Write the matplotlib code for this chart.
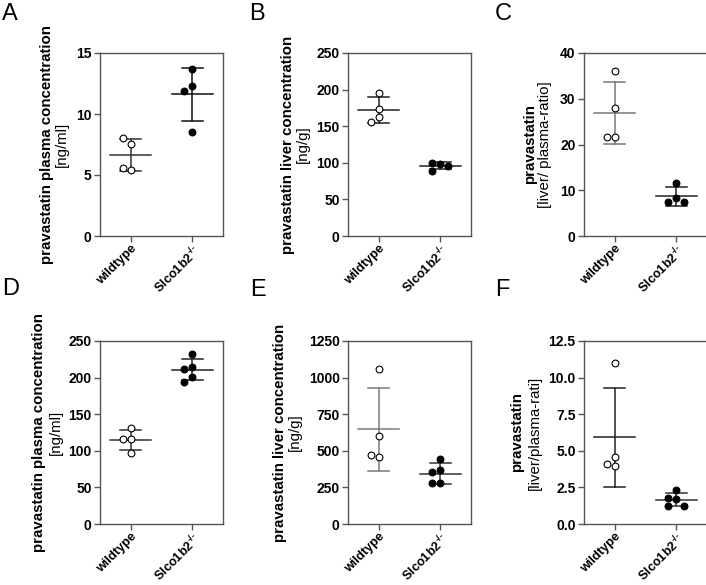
import numpy as np
import matplotlib
matplotlib.use('Agg')
from matplotlib import pyplot as plt

plt.rcParams['font.family'] = ['Liberation Sans', 'DejaVu Sans']
plt.rcParams['mathtext.fontset'] = 'custom'
plt.rcParams['mathtext.rm'] = 'Liberation Sans:bold'
plt.rcParams['mathtext.it'] = 'Liberation Sans:bold'
plt.rcParams['mathtext.bf'] = 'Liberation Sans:bold'

groups = ['wildtype', 'Slco1b2$^{\u2010/\u2010}$']
letters = ['A', 'B', 'C', 'D', 'E', 'F']

# values, one list per group
wt_vals = [
    [7.53, 8.05, 5.40, 5.59],
    [195.9, 173.6, 162.7, 155.9],
    [36.1, 28.0, 21.7, 21.7],
    [130.9, 115.8, 115.8, 96.6],
    [1062, 600, 460, 469],
    [11.0, 4.60, 3.98, 4.07],
]
ko_vals = [
    [13.69, 12.30, 11.92, 8.51],
    [98.2, 89.1, 95.9, 100.0],
    [11.56, 8.29, 7.35, 7.35],
    [231.7, 214.3, 211.1, 201.0, 194.6],
    [444, 371, 355, 277, 277],
    [2.29, 1.72, 1.76, 1.21, 1.26],
]
ylims = [15, 250, 40, 250, 1250, 12.5]
yticks = [
    [0, 5, 10, 15],
    [0, 50, 100, 150, 200, 250],
    [0, 10, 20, 30, 40],
    [0, 50, 100, 150, 200, 250],
    [0, 250, 500, 750, 1000, 1250],
    [0.0, 2.5, 5.0, 7.5, 10.0, 12.5],
]
ytick_fmt = ['{:g}', '{:g}', '{:g}', '{:g}', '{:g}', '{:.1f}']
label_bold = ['pravastatin plasma concentration', 'pravastatin liver concentration', 'pravastatin',
              'pravastatin plasma concentration', 'pravastatin liver concentration', 'pravastatin']
label_unit = ['[ng/ml]', '[ng/g]', '[liver/ plasma-ratio]',
              '[ng/ml]', '[ng/g]', '[liver/plasma-rati]']
# label offsets from the y axis, pixels
label_dx = [(53, 38), (60, 45), (54, 39), (61, 44), (68, 53), (67, 49)]
# colour of the mean/SD lines (wildtype, knockout)
line_cols = [('#333333', '#111111'), ('#222222', '#222222'), ('#777777', '#222222'),
             ('#333333', '#222222'), ('#7a7a7a', '#333333'), ('#222222', '#333333')]

# axes boxes in pixels: left, top
col_left = [100, 348, 584]
row_top = [53, 341]
ax_w, ax_h = 123, 183
letter_pos = [(2, 3), (249, 3), (495, 3), (2, 278), (250, 279), (495, 279)]

W, H = 706, 585
fig = plt.figure(figsize=(W / 100, H / 100), dpi=100)


def swarm(ax, x0, vals, d_px=8.0, diam=7.5):
    # simple beeswarm: shift a point sideways while it overlaps a placed one
    to_px = ax.transData
    placed = []
    xs = []
    inv = ax.transData.inverted()
    step = inv.transform((d_px, 0))[0] - inv.transform((0, 0))[0]
    for v in vals:
        for k in [0, -1, 1, 2, -2, 3, -3]:
            px = to_px.transform((x0 + k * step, v))
            if all(np.hypot(px[0] - q[0], px[1] - q[1]) >= diam for q in placed):
                placed.append(px)
                xs.append(x0 + k * step)
                break
    return xs


for i in range(6):
    r, c = divmod(i, 3)
    left = col_left[c]
    top = row_top[r]
    ax = fig.add_axes([left / W, 1 - (top + ax_h) / H, ax_w / W, ax_h / H])
    ax.set_xlim(-0.5, 1.5)
    ax.set_ylim(0, ylims[i])
    for sp in ax.spines.values():
        sp.set_color('#555555')
        sp.set_linewidth(1.0)

    for g, vals in enumerate([wt_vals[i], ko_vals[i]]):
        vals = np.array(vals, dtype=float)
        m = vals.mean()
        sd = vals.std(ddof=1)
        col = line_cols[i][g]
        ax.plot([g - 0.33, g + 0.33], [m, m], color=col, lw=1.1, zorder=2)
        ax.plot([g, g], [m - sd, m + sd], color=col, lw=1.1, zorder=2)
        ax.plot([g - 0.17, g + 0.17], [m + sd, m + sd], color=col, lw=1.1, zorder=2)
        ax.plot([g - 0.17, g + 0.17], [m - sd, m - sd], color=col, lw=1.1, zorder=2)
        xs = swarm(ax, g, vals)
        face = 'white' if g == 0 else 'black'
        ax.scatter(xs, vals, s=24, facecolor=face, edgecolor='black', linewidth=0.8, zorder=3)

    ax.set_yticks(yticks[i])
    ax.set_yticklabels([ytick_fmt[i].format(t) for t in yticks[i]], fontsize=10, fontweight='bold')
    ax.set_xticks([0, 1])
    ax.set_xticklabels(groups, fontsize=9.2, fontweight='bold', rotation=45,
                       ha='right', rotation_mode='anchor')
    ax.tick_params(axis='both', direction='out', length=4, width=1.0, color='#555555', pad=2)
    ax.tick_params(axis='x', pad=1)

    dx1, dx2 = label_dx[i]
    ax.annotate(label_bold[i], xy=(0, 0.5), xycoords='axes fraction',
                xytext=(-dx1 * 0.72, 0), textcoords='offset points',
                rotation=90, ha='center', va='center', fontsize=10.8, fontweight='bold')
    ax.annotate(label_unit[i], xy=(0, 0.5), xycoords='axes fraction',
                xytext=(-dx2 * 0.72, 0), textcoords='offset points',
                rotation=90, ha='center', va='center', fontsize=10.8)

    lx, ly = letter_pos[i]
    fig.text(lx / W, 1 - ly / H, letters[i], fontsize=17, va='top', ha='left')

plt.savefig('out.png', dpi=100)
